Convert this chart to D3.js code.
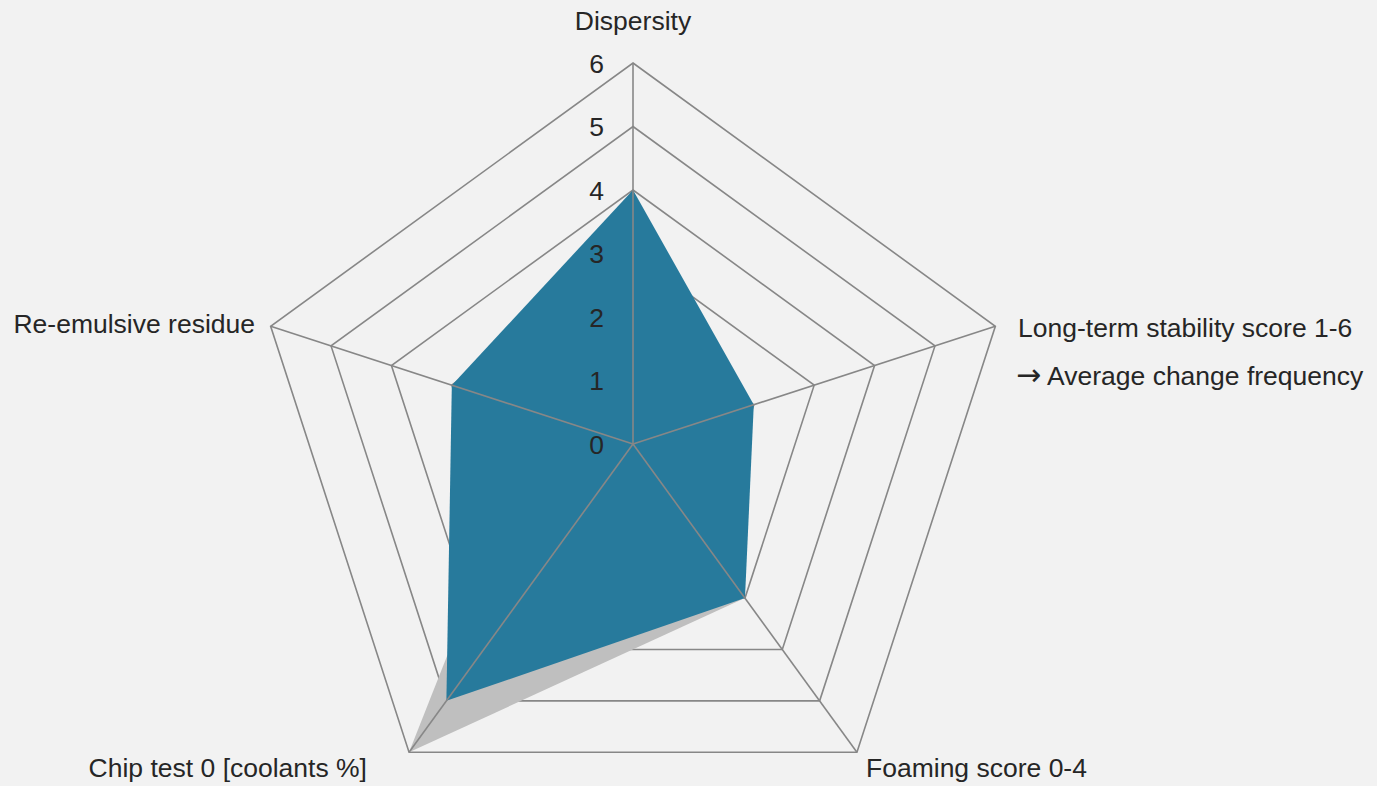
<!DOCTYPE html>
<html>
<head>
<meta charset="utf-8">
<script src="https://cdn.jsdelivr.net/npm/d3@7"></script>
<style>
  html, body { margin: 0; padding: 0; background: #f2f2f2; }
  svg { display: block; font-family: "Liberation Sans", Arial, sans-serif; }
</style>
</head>
<body>
<svg width="1377" height="786"></svg>
<script>
const categories = ["Dispersity", "Long-term stability score 1-6", "Foaming score 0-4", "Chip test 0 [coolants %]", "Re-emulsive residue"];
const greyValues = [3, 1.5, 3, 6, 1.5];
const blueValues = [4, 2, 3, 5, 3];
const tickLabels = [0, 1, 2, 3, 4, 5, 6];

const cx = 633, cy = 444;
const fontSize = "26.5px";
const svg = d3.select("svg");

const r = d3.scaleLinear().domain([0, 6]).range([0, 381]);
const angle = d3.scaleLinear().domain([0, categories.length]).range([0, 2 * Math.PI]);

function pt(i, v) {
    const a = angle(i) - Math.PI / 2;
    return [cx + Math.cos(a) * r(v), cy + Math.sin(a) * r(v)];
}

const line = d3.line().curve(d3.curveLinearClosed);

// rings
const g = svg.append("g");
g.selectAll("path.ring").data(tickLabels.filter(d => d > 0)).enter().append("path")
    .attr("class", "ring")
    .attr("d", d => line(categories.map((c, i) => pt(i, d))))
    .attr("fill", "none")
    .attr("stroke", "#878787")
    .attr("stroke-width", 1.6);

// series
const series = [
    {values: greyValues, color: "#bfbfbf"},
    {values: blueValues, color: "#277a9c"}
];
g.selectAll("path.series").data(series).enter().append("path")
    .attr("class", "series")
    .attr("d", s => line(s.values.map((v, i) => pt(i, v))))
    .attr("fill", s => s.color)
    .attr("stroke", "none");

// spokes
g.selectAll("line.spoke").data(categories).enter().append("line")
    .attr("x1", cx).attr("y1", cy)
    .attr("x2", (d, i) => pt(i, 6)[0])
    .attr("y2", (d, i) => pt(i, 6)[1])
    .attr("stroke", "#878787")
    .attr("stroke-width", 1.6);

// value labels on the top axis
g.selectAll("text.tick").data(tickLabels).enter().append("text")
    .attr("x", cx - 29)
    .attr("y", d => cy - r(d))
    .attr("dy", "0.36em")
    .attr("text-anchor", "end")
    .attr("font-size", fontSize)
    .attr("fill", "#262626")
    .text(d => d);

// category labels
const labelPos = [
    {x: 633, y: 30, anchor: "middle"},
    {x: 1018, y: 337, anchor: "start"},
    {x: 866, y: 777, anchor: "start"},
    {x: 367, y: 777, anchor: "end"},
    {x: 255, y: 333, anchor: "end"}
];
g.selectAll("text.cat").data(categories).enter().append("text")
    .attr("class", "cat")
    .attr("x", (d, i) => labelPos[i].x)
    .attr("y", (d, i) => labelPos[i].y)
    .attr("text-anchor", (d, i) => labelPos[i].anchor)
    .attr("font-size", fontSize)
    .attr("fill", "#262626")
    .text(d => d);

const sub = g.append("text")
    .attr("x", 1016).attr("y", 385)
    .attr("font-size", fontSize)
    .attr("fill", "#262626");
sub.append("tspan")
    .attr("font-family", "DejaVu Sans")
    .attr("font-size", "30px")
    .text("\u2192");
sub.append("tspan").text(" Average change frequency");
</script>
</body>
</html>
